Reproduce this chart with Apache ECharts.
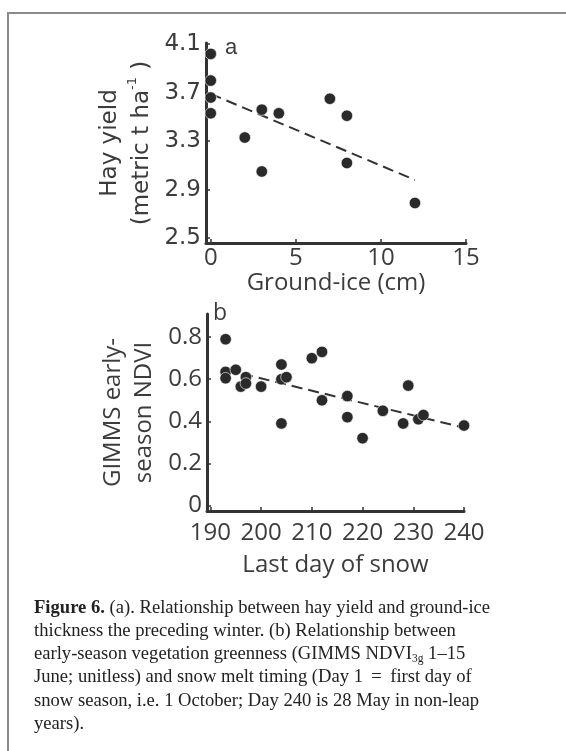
<!DOCTYPE html>
<html>
<head>
<meta charset="utf-8">
<script src="https://cdn.jsdelivr.net/npm/echarts@6/dist/echarts.min.js"></script>
<style>
html,body{margin:0;padding:0;background:#fff;}
#c{width:566px;height:751px;}
</style>
</head>
<body>
<div id="c"></div>
<script>
// Panel a: hay yield vs ground-ice
const iceCm = [0, 0, 0, 0, 2, 3, 3, 4, 7, 8, 8, 12];
const hayYield = [4.02, 3.80, 3.66, 3.53, 3.33, 3.56, 3.05, 3.53, 3.65, 3.51, 3.12, 2.79];
const fitAx = [0, 12];
const fitAy = [3.69, 2.98];
const ticksAx = [0, 5, 10, 15];
const ticksAy = [2.5, 2.9, 3.3, 3.7, 4.1];

// Panel b: NDVI vs last day of snow
const snowDay = [193, 193, 193, 195, 196, 197, 197, 200, 204, 204, 204, 205, 210, 212, 212, 217, 217, 220, 224, 228, 229, 231, 232, 240];
const ndvi = [0.79, 0.635, 0.605, 0.645, 0.565, 0.61, 0.58, 0.565, 0.67, 0.60, 0.39, 0.61, 0.70, 0.73, 0.50, 0.52, 0.42, 0.32, 0.45, 0.39, 0.57, 0.41, 0.43, 0.38];
const fitBx = [193, 240];
const fitBy = [0.645, 0.37];
const ticksBx = [190, 200, 210, 220, 230, 240];
const ticksBy = [0, 0.2, 0.4, 0.6, 0.8];

const captionLines = [
  '{b|Figure 6.} (a). Relationship between hay yield and ground-ice',
  'thickness the preceding winter. (b) Relationship between',
  'early-season vegetation greenness (GIMMS NDVI{sub|3g} 1\u201315',
  'June; unitless) and snow melt timing (Day 1 \u2009=\u2009 first day of',
  'snow season, i.e. 1 October; Day 240 is 28 May in non-leap',
  'years).'
];

const zip = (xs, ys) => xs.map((x, i) => [x, ys[i]]);
const AX = '#333333';
const TXT = '#3c3c3c';
const DOT = '#2a2a2a';

function axisCommon(ticks, font, size, margin) {
  return {
    axisLine: {show: true, onZero: false, lineStyle: {color: AX, width: 3}},
    axisTick: {show: true, inside: true, length: 4, customValues: ticks, lineStyle: {color: AX, width: 1.5}},
    axisLabel: {customValues: ticks, color: TXT, fontFamily: font, fontSize: size, margin: margin},
    splitLine: {show: false}
  };
}

const chart = echarts.init(document.getElementById('c'), null, {renderer: 'canvas'});

const graphics = [
  {type: 'polyline', shape: {points: [[8, 751], [8, 13], [566, 13]]}, style: {stroke: '#8a8a8a', lineWidth: 2, fill: null}, silent: true},
  {type: 'text', x: 225, y: 48, style: {text: 'a', fontFamily: 'Liberation Sans', fontSize: 22, fill: TXT, verticalAlign: 'middle'}},
  {type: 'text', x: 213, y: 313, style: {text: 'b', fontFamily: 'Open Sans', fontSize: 23, fill: TXT, verticalAlign: 'middle'}}
];
captionLines.forEach((t, i) => {
  graphics.push({
    type: 'text', x: 34, y: 608 + i * 23.2,
    style: {
      text: t, fontFamily: 'Liberation Serif', fontSize: 18.6, fill: '#222',
      verticalAlign: 'middle', lineHeight: 22,
      rich: {
        b: {fontFamily: 'Liberation Serif', fontWeight: 'bold', fontSize: 18.6, fill: '#222'},
        sub: {fontFamily: 'Liberation Serif', fontSize: 11.5, verticalAlign: 'bottom', fill: '#222'}
      }
    }
  });
});

chart.setOption({
  animation: false,
  backgroundColor: '#fff',
  grid: [
    {left: 206, top: 43, width: 260, height: 200},
    {left: 207, top: 314, width: 257, height: 197}
  ],
  xAxis: [
    Object.assign({
      gridIndex: 0, type: 'value', min: -0.28, max: 15,
      name: 'Ground-ice (cm)', nameLocation: 'middle', nameGap: 26,
      nameTextStyle: {fontFamily: 'Open Sans', fontSize: 24, color: TXT}
    }, axisCommon(ticksAx, 'Open Sans', 24, 3)),
    Object.assign({
      gridIndex: 1, type: 'value', min: 189.33, max: 240,
      name: 'Last day of snow', nameLocation: 'middle', nameGap: 42,
      nameTextStyle: {fontFamily: 'Open Sans', fontSize: 24, color: TXT}
    }, axisCommon(ticksBx, 'Open Sans', 24, 10))
  ],
  yAxis: [
    Object.assign({
      gridIndex: 0, type: 'value', min: 2.46, max: 4.11,
      name: 'Hay yield\n(metric t ha{sup|-1} )', nameLocation: 'middle', nameRotate: 90, nameGap: 48,
      nameTextStyle: {fontFamily: 'DejaVu Sans', fontSize: 23, color: TXT, lineHeight: 32, align: 'center',
        rich: {sup: {fontFamily: 'DejaVu Sans', fontSize: 13, color: TXT, verticalAlign: 'top'}}}
    }, axisCommon(ticksAy, 'DejaVu Sans', 23, 5)),
    Object.assign({
      gridIndex: 1, type: 'value', min: -0.026, max: 0.91,
      name: 'GIMMS early-\nseason NDVI', nameLocation: 'middle', nameRotate: 90, nameGap: 47,
      nameTextStyle: {fontFamily: 'Open Sans', fontSize: 24, color: TXT, lineHeight: 31, align: 'center'}
    }, axisCommon(ticksBy, 'Open Sans', 24, 5))
  ],
  series: [
    {type: 'line', xAxisIndex: 0, yAxisIndex: 0, data: zip(fitAx, fitAy), symbol: 'none',
      lineStyle: {color: AX, width: 2, type: [11, 6]}, z: 2},
    {type: 'scatter', xAxisIndex: 0, yAxisIndex: 0, data: zip(iceCm, hayYield), symbolSize: 11.5,
      itemStyle: {color: DOT, borderColor: '#fff', borderWidth: 0.6, opacity: 1}, z: 3},
    {type: 'line', xAxisIndex: 1, yAxisIndex: 1, data: zip(fitBx, fitBy), symbol: 'none',
      lineStyle: {color: AX, width: 2, type: [11, 6]}, z: 2},
    {type: 'scatter', xAxisIndex: 1, yAxisIndex: 1, data: zip(snowDay, ndvi), symbolSize: 11.5,
      itemStyle: {color: DOT, borderColor: '#fff', borderWidth: 0.6, opacity: 1}, z: 3}
  ],
  graphic: graphics
});
</script>
</body>
</html>
